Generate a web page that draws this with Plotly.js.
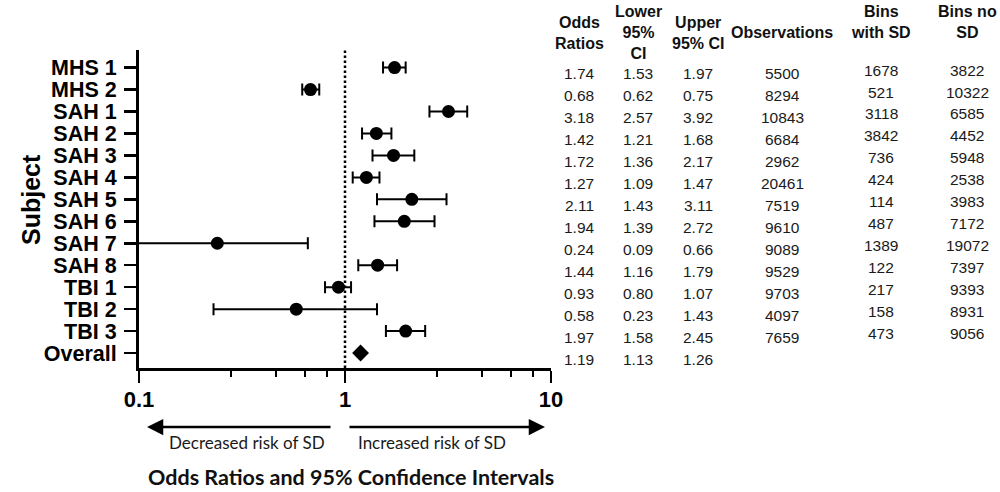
<!DOCTYPE html>
<html>
<head>
<meta charset="utf-8">
<script src="https://cdn.plot.ly/plotly-3.0.1.min.js"></script>
<style>html,body{margin:0;padding:0;background:#fff;}#chart{width:1000px;height:492px;}</style>
</head>
<body>
<div id="chart"></div>
<script>
// ---------- data ----------
const subjects = ['MHS 1','MHS 2','SAH 1','SAH 2','SAH 3','SAH 4','SAH 5','SAH 6','SAH 7','SAH 8','TBI 1','TBI 2','TBI 3','Overall'];
const oddsRatios = [1.74,0.68,3.18,1.42,1.72,1.27,2.11,1.94,0.24,1.44,0.93,0.58,1.97,1.19];
const lowerCI   = [1.53,0.62,2.57,1.21,1.36,1.09,1.43,1.39,0.09,1.16,0.80,0.23,1.58,1.13];
const upperCI   = [1.97,0.75,3.92,1.68,2.17,1.47,3.11,2.72,0.66,1.79,1.07,1.43,2.45,1.26];
const observations = [5500,8294,10843,6684,2962,20461,7519,9610,9089,9529,9703,4097,7659];
const binsWithSD   = [1678,521,3118,3842,736,424,114,487,1389,122,217,158,473];
const binsNoSD     = [3822,10322,6585,4452,5948,2538,3983,7172,19072,7397,9393,8931,9056];
const xTickVals = [0.1, 1, 10];
const xTickText = ['0.1', '1', '10'];
const xMinorTickVals = [0.28,0.46,0.64,0.82,2.8,4.6,6.4,8.2];
const headers = ['Odds<br>Ratios','Lower<br>95%<br>CI','Upper<br>95% CI','Observations','Bins<br>with SD','Bins no<br>SD'];
const arrowLabels = ['Decreased risk of SD','Increased risk of SD'];
const xTitle = 'Odds Ratios and 95% Confidence Intervals';
const yTitle = 'Subject';

// ---------- layout geometry (pixels) ----------
const W = 1000, H = 492, L = 139, R = 551, T = 50, B = 368;
const px = x => (x - L) / (R - L);
const py = y => (B - y) / (B - T);
const colX = [579, 638, 698, 782, 881, 967];
const headerY = [33, 33, 33, 33, 22.5, 22.5];

const nStudies = subjects.length - 1;
const studyNames = subjects.slice(0, nStudies);

const traces = [
  {
    type: 'scatter', mode: 'markers',
    x: oddsRatios.slice(0, nStudies), y: studyNames,
    marker: {symbol: 'circle', size: 13, color: '#000'},
    error_x: {
      type: 'data', symmetric: false,
      array: upperCI.slice(0, nStudies).map((u, i) => u - oddsRatios[i]),
      arrayminus: lowerCI.slice(0, nStudies).map((l, i) => oddsRatios[i] - l),
      color: '#000', thickness: 2, width: 6
    },
    hoverinfo: 'skip', showlegend: false
  },
  {
    type: 'scatter', mode: 'markers',
    x: [oddsRatios[nStudies]], y: [subjects[nStudies]],
    marker: {symbol: 'diamond', size: 13, color: '#000'},
    hoverinfo: 'skip', showlegend: false
  }
];

const xTickFont = {family: 'Liberation Sans, Arial, sans-serif', size: 22, color: '#000', weight: 'bold'};
const yTickFont = {family: 'Liberation Sans, Arial, sans-serif', size: 21.5, color: '#000', weight: 'bold'};
const annotations = [];

// y title
annotations.push({xref: 'paper', yref: 'paper', x: px(15), y: py(200), text: yTitle, showarrow: false,
  textangle: -90, font: {family: 'Liberation Sans, Arial, sans-serif', size: 25, color: '#000', weight: 'bold'}});

// table headers
headers.forEach((h, i) => annotations.push({xref: 'paper', yref: 'paper', x: px(colX[i]), y: py(headerY[i]),
  xanchor: 'center', yanchor: 'middle', text: h, showarrow: false,
  font: {family: 'Liberation Sans, Arial, sans-serif', size: 16, color: '#111', weight: 'bold'}}));

// table cells
const cellFont = {family: 'Liberation Sans, Arial, sans-serif', size: 15.5, color: '#1a1a1a'};
const columns = [
  {vals: oddsRatios.map(v => v.toFixed(2)), shift: -6},
  {vals: lowerCI.map(v => v.toFixed(2)), shift: -6},
  {vals: upperCI.map(v => v.toFixed(2)), shift: -6},
  {vals: observations.map(String), shift: -6},
  {vals: binsWithSD.map(String), shift: -2.5},
  {vals: binsNoSD.map(String), shift: -2.5}
];
columns.forEach((c, ci) => c.vals.forEach((v, ri) => annotations.push({
  xref: 'paper', yref: 'y', x: px(colX[ci]), y: subjects[ri], yshift: c.shift,
  xanchor: 'center', yanchor: 'middle', text: v, showarrow: false, font: cellFont})));

// risk arrows
annotations.push({xref: 'paper', yref: 'paper', x: px(147), y: py(427), ax: 185, ay: 0, text: '',
  showarrow: true, arrowhead: 2, arrowsize: 1.3, arrowwidth: 2.5, arrowcolor: '#000'});
annotations.push({xref: 'paper', yref: 'paper', x: px(545), y: py(427), ax: -197, ay: 0, text: '',
  showarrow: true, arrowhead: 2, arrowsize: 1.3, arrowwidth: 2.5, arrowcolor: '#000'});
const lblFont = {family: 'Lato, sans-serif', size: 17, color: '#1a1a1a'};
annotations.push({xref: 'paper', yref: 'paper', x: px(247), y: py(442), text: arrowLabels[0], showarrow: false, xanchor: 'center', yanchor: 'middle', font: lblFont});
annotations.push({xref: 'paper', yref: 'paper', x: px(432), y: py(442), text: arrowLabels[1], showarrow: false, xanchor: 'center', yanchor: 'middle', font: lblFont});
// x title
annotations.push({xref: 'paper', yref: 'paper', x: px(351), y: py(477), text: xTitle, showarrow: false, xanchor: 'center', yanchor: 'middle',
  font: {family: 'Lato, sans-serif', size: 21.5, color: '#111', weight: 'bold'}});

const layout = {
  width: W, height: H,
  margin: {l: L, r: W - R, t: T, b: H - B, pad: 0},
  paper_bgcolor: '#fff', plot_bgcolor: '#fff',
  showlegend: false,
  xaxis: {
    type: 'log', range: [Math.log10(0.1), Math.log10(10)],
    tickmode: 'array', tickvals: xTickVals, ticktext: xTickText,
    ticks: 'outside', ticklen: 12, tickwidth: 2.5, tickcolor: '#000',
    showline: true, linewidth: 3, linecolor: '#000',
    showgrid: false, zeroline: false,
    tickfont: xTickFont, ticklabelstandoff: -2,
    minor: {tickmode: 'array', tickvals: xMinorTickVals, ticks: 'outside', ticklen: 6, tickwidth: 2, tickcolor: '#000', showgrid: false},
    fixedrange: true
  },
  yaxis: {
    type: 'category', categoryorder: 'array', categoryarray: subjects,
    tickmode: 'array', tickvals: subjects, ticktext: subjects,
    range: [subjects.length - 1 + 0.68, -0.8],
    ticks: 'outside', ticklen: 12, tickwidth: 2.5, tickcolor: '#000',
    showline: true, linewidth: 3, linecolor: '#000',
    showgrid: false, zeroline: false,
    tickfont: yTickFont, ticklabelstandoff: 3,
    fixedrange: true
  },
  shapes: [{type: 'line', xref: 'x', yref: 'paper', x0: 1, x1: 1, y0: 0, y1: 1,
    line: {color: '#000', width: 2.5, dash: '2.5px,2.5px'}}],
  annotations: annotations
};

Plotly.newPlot('chart', traces, layout, {displayModeBar: false, staticPlot: true});
</script>
</body>
</html>
